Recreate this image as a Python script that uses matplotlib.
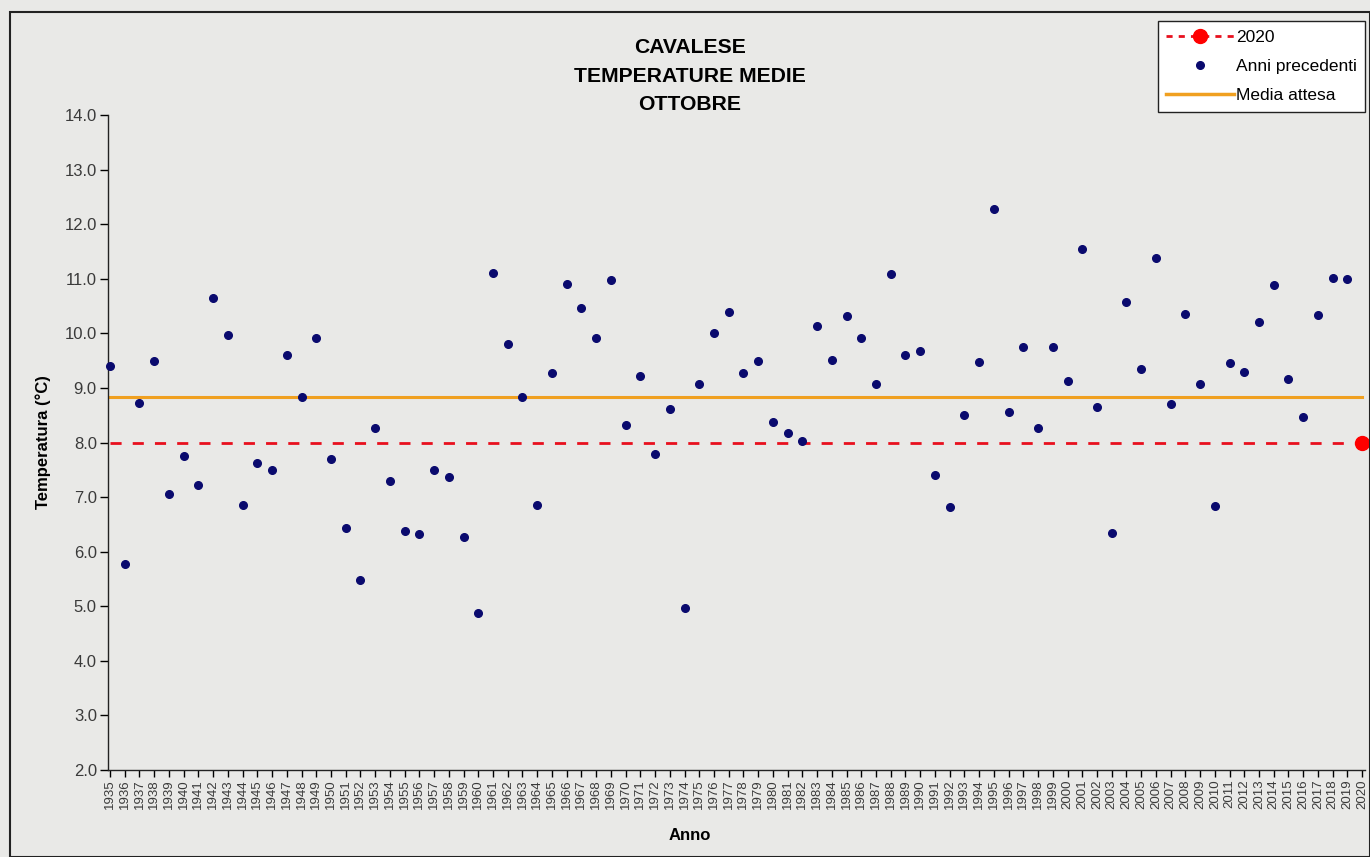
import matplotlib
matplotlib.use("Agg")
import matplotlib.pyplot as plt
from matplotlib.patches import Rectangle
from matplotlib.lines import Line2D

plt.rcParams['font.family'] = ['Liberation Sans', 'DejaVu Sans']

years = list(range(1935, 2020))
temps = [9.40, 5.77, 8.73, 9.50, 7.05, 7.75, 7.22, 10.65, 9.97, 6.86,
         7.63, 7.49, 9.60, 8.83, 9.91, 7.70, 6.44, 5.48, 8.27, 7.30,
         6.38, 6.33, 7.50, 7.36, 6.27, 4.88, 11.11, 9.81, 8.83, 6.86,
         9.28, 10.90, 10.46, 9.92, 10.98, 8.32, 9.21, 7.79, 8.62, 4.97,
         9.07, 10.01, 10.39, 9.28, 9.49, 8.38, 8.18, 8.03, 10.13, 9.51,
         10.31, 9.91, 9.07, 11.09, 9.61, 9.68, 7.41, 6.81, 8.50, 9.47,
         12.27, 8.55, 9.75, 8.27, 9.75, 9.12, 11.54, 8.65, 6.35, 10.57,
         9.34, 11.38, 8.70, 10.36, 9.08, 6.83, 9.45, 9.30, 10.20, 10.88,
         9.16, 8.46, 10.33, 11.02, 11.00]
year_2020 = 2020
temp_2020 = 8.00
media_attesa = 8.83
all_years = years + [year_2020]

bg = '#e9e9e7'
fig = plt.figure(figsize=(13.70, 8.57), dpi=100, facecolor=bg)
ax = fig.add_axes([0.0788, 0.1015, 0.9176, 0.7643])
ax.set_facecolor(bg)

# reference lines
ax.plot(all_years, [media_attesa] * len(all_years), color='#f0a020', lw=2.2, zorder=2)
ax.plot(all_years, [temp_2020] * len(all_years), color='#e8101e', lw=2, ls=(0, (4, 4)), zorder=2)
ax.plot([year_2020], [temp_2020], 'o', color='#ff0000', ms=10, zorder=4, clip_on=False)
ax.plot(years, temps, 'o', color='#0a0a6e', ms=5.5, ls='none', zorder=3, clip_on=False)

ax.set_xlim(1934.86, 2020.2)
ax.set_ylim(2.0, 14.0)
ax.set_yticks([2 + i for i in range(13)])
ax.set_yticklabels([f"{2 + i:.1f}" for i in range(13)], fontsize=12, color='#3a3a3a')
ax.set_xticks(all_years)
ax.set_xticklabels([str(y) for y in all_years], rotation=90, fontsize=9.5, color='#3a3a3a')
ax.tick_params(axis='y', direction='out', length=6, width=1, pad=2)
ax.tick_params(axis='x', direction='out', length=5, width=1, pad=2)
for s in ['top', 'right']:
    ax.spines[s].set_visible(False)
for s in ['left', 'bottom']:
    ax.spines[s].set_color('#222222')
    ax.spines[s].set_linewidth(1)

ax.set_ylabel('Temperatura (°C)', fontsize=12, fontweight='bold', labelpad=10)
fig.text(0.5036, 1 - 836 / 857, 'Anno', fontsize=12, fontweight='bold', ha='center', va='center')

fig.text(0.5036, 1 - 76 / 857, 'CAVALESE\nTEMPERATURE MEDIE\nOTTOBRE', fontsize=15.2,
         fontweight='bold', ha='center', va='center', linespacing=1.62)

handles = [
    Line2D([], [], color='#e8101e', ls=(0, (2.2, 2.2)), lw=2, marker='o', ms=10,
           markerfacecolor='#ff0000', markeredgecolor='#ff0000'),
    Line2D([], [], color='#0a0a6e', ls='none', marker='o', ms=5.5),
    Line2D([], [], color='#f0a020', lw=2.5),
]
leg = fig.legend(handles, ['2020', 'Anni precedenti', 'Media attesa'],
                 loc='upper right', bbox_to_anchor=(0.9965, 0.975), fontsize=12.5,
                 frameon=True, fancybox=False, edgecolor='#222222', facecolor='white',
                 framealpha=1, handlelength=3.9, handletextpad=0.1, borderpad=0.5,
                 labelspacing=0.8, borderaxespad=0)
leg.get_frame().set_linewidth(1)

fig.patches.append(Rectangle((10 / 1370, 0.0), 1 - 10 / 1370, 1 - 12 / 857,
                             transform=fig.transFigure, fill=False,
                             edgecolor='#222222', lw=1.5))

fig.savefig('out.png', dpi=100, facecolor=bg)
